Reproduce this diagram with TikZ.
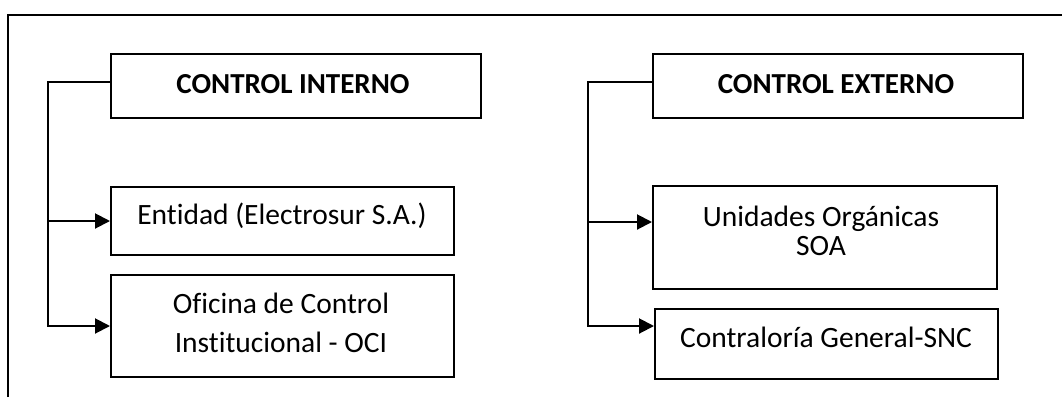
\documentclass[tikz,border=0pt]{standalone}
\usepackage{fontspec}
\setmainfont[Ligatures=NoCommon]{Carlito}
\usetikzlibrary{arrows.meta}
\begin{document}
\begin{tikzpicture}[x=1pt,y=-1pt,
  box/.style={draw,line width=2pt,inner sep=0pt,anchor=north west},
  txt/.style={font=\fontsize{29.5}{39}\selectfont,inner sep=0pt,align=center},
  head/.style={font=\fontsize{29}{34}\selectfont\bfseries,inner sep=0pt},
  link/.style={line width=2pt},
  feed/.style={line width=2pt,-{Triangle[length=15pt,width=15pt]}}]
\useasboundingbox (0,0) rectangle (1062,397);
% outer frame (left and top edges)
\draw[line width=2pt] (8,397) -- (8,15) -- (1062,15);

% boxes
\node[box,minimum width=370pt,minimum height=64pt]  (ci)  at (110,53)  {};
\node[box,minimum width=343pt,minimum height=68pt]  (ent) at (110,186) {};
\node[box,minimum width=343pt,minimum height=102pt] (oci) at (110,274) {};
\node[box,minimum width=370pt,minimum height=64pt]  (ce)  at (652,53)  {};
\node[box,minimum width=344pt,minimum height=103pt] (uo)  at (652,185) {};
\node[box,minimum width=343pt,minimum height=70pt]  (cg)  at (654,308) {};

% texts (multi-line nodes sit on the baseline of their last line)
\node[head,anchor=base] (cit) at (293,93) {CONTROL INTERNO};
\node[head,anchor=base] (cet) at (836,93) {CONTROL EXTERNO};
\node[txt,anchor=base]  (entt) at (282,224) {Entidad (Electrosur S.A.)};
\node[txt,anchor=base]  (ocit) at (281,352) {Oficina de Control\\Institucional - OCI};
\node[txt,anchor=base,font=\fontsize{29.5}{29}\selectfont] (uot) at (821,255) {Unidades Orgánicas\\SOA};
\node[txt,anchor=base]  (cgt) at (826,347) {Contraloría General-SNC};

% bus coordinates
\coordinate (lb) at (48,0);
\coordinate (rb) at (588,0);
\coordinate (cij) at ([yshift=4pt]ci.west);
\coordinate (cej) at ([yshift=4pt]ce.west);
\coordinate (uoj) at ([yshift=-37pt]uo.north west);
\coordinate (cgj) at ([yshift=-18pt]cg.north west);

% connectors of the internal control
\draw[feed] (cij) -- (cij -| lb) |- (oci.west);
\draw[feed] (lb |- ent.west) -- (ent.west);

% connectors of the external control
\draw[feed] (cej) -- (cej -| rb) |- (cgj);
\draw[feed] (rb |- uoj) -- (uoj);
\end{tikzpicture}
\end{document}
